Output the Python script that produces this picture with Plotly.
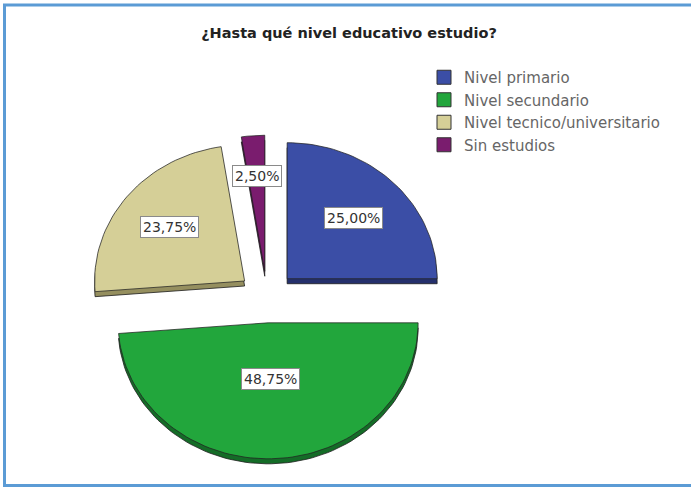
import math
import plotly.graph_objects as go

# Survey result: highest education level reached
categories = ["Nivel primario", "Nivel secundario", "Nivel tecnico/universitario", "Sin estudios"]
percentages = [25.00, 48.75, 23.75, 2.50]
value_labels = ["25,00%", "48,75%", "23,75%", "2,50%"]

colors = ["#3b4ea6", "#22a63c", "#d5cf97", "#7a1c6e"]
side_colors = ["#25306c", "#146c27", "#958f5f", "#4a0f43"]

W, H = 691, 487
CX, CY = 267, 297          # pie centre (pixel space of the axes)
RX, RY = 150, 136          # tilted pie: wider than tall
PULL = 0.19                # explode distance, fraction of the radius
DEPTH = 5                  # thickness of the 3D rim
label_depth = [0.63, 0.41, 0.64, 0.70]
FONT = "DejaVu Sans, Verdana, sans-serif"


def slice_path(a0, a1, cx, cy):
    """Closed outline of an elliptical wedge between angles a0..a1 (radians, clockwise from 12 o'clock)."""
    n = max(2, int((a1 - a0) / (2 * math.pi) * 180))
    xs, ys = [cx], [cy]
    for i in range(n + 1):
        a = a0 + (a1 - a0) * i / n
        xs.append(cx + RX * math.sin(a))
        ys.append(cy - RY * math.cos(a))
    xs.append(cx)
    ys.append(cy)
    return xs, ys


total = sum(percentages)
bounds, acc = [], 0.0
for v in percentages:
    a0 = acc / total * 2 * math.pi
    acc += v
    bounds.append((a0, acc / total * 2 * math.pi))

fig = go.Figure()

# wedges: dark rim first, then the face on top
for layer in ("rim", "face"):
    for (a0, a1), c, sc in zip(bounds, colors, side_colors):
        mid = (a0 + a1) / 2
        vx = CX + PULL * RX * math.sin(mid)
        vy = CY - PULL * RY * math.cos(mid)
        if layer == "rim":
            xs, ys = slice_path(a0, a1, vx, vy + DEPTH)
            fill, lc = sc, "rgba(30,30,30,0.8)"
        else:
            xs, ys = slice_path(a0, a1, vx, vy)
            fill, lc = c, "rgba(35,35,35,0.75)"
        fig.add_trace(go.Scatter(
            x=xs, y=ys, mode="lines", fill="toself", fillcolor=fill,
            line=dict(color=lc, width=1), hoverinfo="skip", showlegend=False,
        ))

# legend entries
for name, c in zip(categories, colors):
    fig.add_trace(go.Scatter(
        x=[None], y=[None], mode="markers", name=name,
        marker=dict(symbol="square", size=14, color=c,
                    line=dict(color="#333", width=1)),
    ))

# boxed percentage labels along each wedge's mid-angle
for (a0, a1), txt, k in zip(bounds, value_labels, label_depth):
    mid = (a0 + a1) / 2
    px = CX + (PULL + k) * RX * math.sin(mid)
    py = CY - (PULL + k) * RY * math.cos(mid)
    fig.add_annotation(
        x=px, y=py, xref="x", yref="y", text=txt,
        xanchor="center", yanchor="middle", showarrow=False,
        bgcolor="white", bordercolor="#8a8a8a", borderwidth=1, borderpad=2,
        font=dict(family=FONT, size=14, color="#333"),
    )

# outer frame
fig.add_shape(type="rect", xref="paper", yref="paper",
              x0=4.5 / W, x1=1.02, y0=1 - 485.5 / H, y1=1 - 5 / H,
              line=dict(color="#5b9bd5", width=3), fillcolor="rgba(0,0,0,0)")

fig.update_layout(
    width=W, height=H,
    margin=dict(l=0, r=0, t=0, b=0),
    paper_bgcolor="white", plot_bgcolor="white",
    xaxis=dict(range=[0, W], visible=False, fixedrange=True),
    yaxis=dict(range=[H, 0], visible=False, fixedrange=True),
    title=dict(text="<b>¿Hasta qué nivel educativo estudio?</b>",
               x=349 / W, xanchor="center", y=1 - 33 / H, yanchor="middle",
               font=dict(family=FONT, size=14.5, color="#222")),
    legend=dict(x=424 / W, y=1 - 61 / H, xanchor="left", yanchor="top",
                font=dict(family=FONT, size=15, color="#666"),
                itemwidth=30, bgcolor="rgba(0,0,0,0)", traceorder="normal"),
)

fig.write_html("out.html")
